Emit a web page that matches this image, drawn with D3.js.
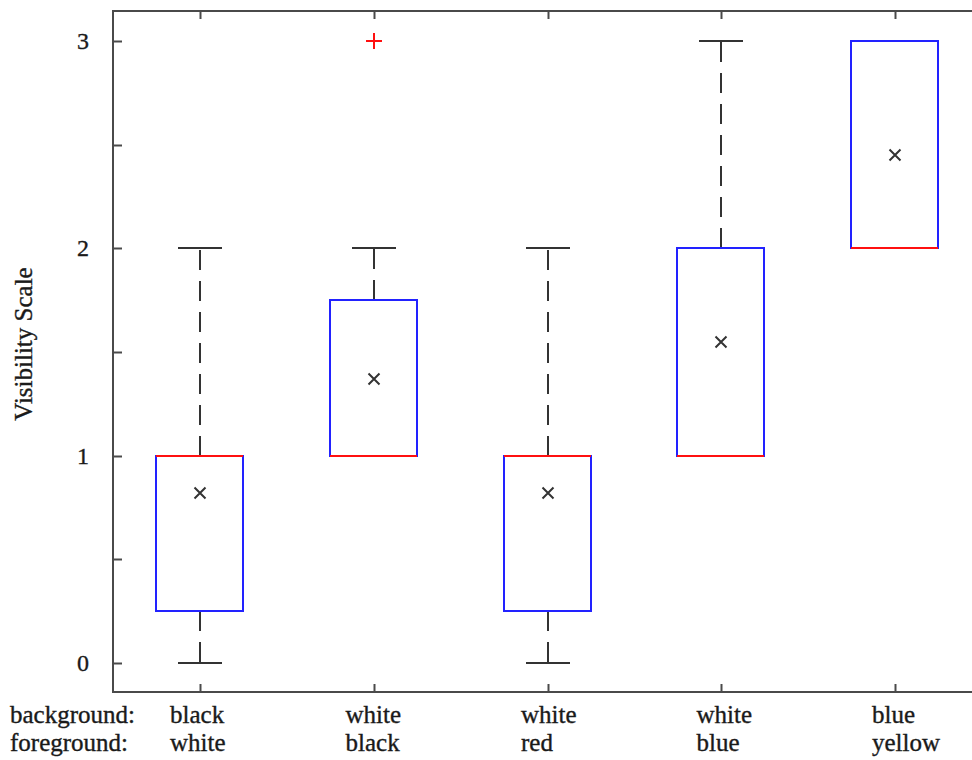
<!DOCTYPE html>
<html>
<head>
<meta charset="utf-8">
<script src="https://cdn.jsdelivr.net/npm/d3@7"></script>
<style>
  html, body { margin: 0; padding: 0; background: #fff; }
  svg { display: block; }
  text { font-family: "Liberation Serif", "Times New Roman", serif; fill: #1a1a1a; stroke: #1a1a1a; stroke-width: 0.35px; }
</style>
</head>
<body>
<svg id="chart" width="972" height="760"></svg>
<script>
// ---- data ----
const backgrounds = ["black", "white", "white", "white", "blue"];
const foregrounds = ["white", "black", "red", "blue", "yellow"];
const q1 = [0.25, 1, 0.25, 1, 2];
const medians = [1, 1, 1, 1, 2];
const q3 = [1, 1.75, 1, 2, 3];
const whiskerLow = [0, 1, 0, 1, 2];
const whiskerHigh = [2, 2, 2, 3, 3];
const means = [0.82, 1.37, 0.82, 1.55, 2.45];
const outliers = [[], [3], [], [], []];
const yTickValues = [0, 0.5, 1, 1.5, 2, 2.5, 3];
const yTickLabels = ["0", "", "1", "", "2", "", "3"];
const rowLabels = ["background:", "foreground:"];

// ---- layout ----
const svg = d3.select("#chart");
const plot = { left: 113, top: 11, right: 982, bottom: 692 };
const idx = d3.range(backgrounds.length);

const x = d3.scaleLinear().domain([0.5, 5.5]).range([plot.left, plot.right]).interpolate(d3.interpolateRound);
const y = d3.scaleLinear().domain([-0.14, 3.145]).range([plot.bottom, plot.top]).interpolate(d3.interpolateRound);
const labelX = d3.scaleLinear().domain([0, 4]).range([170, 872]);

const boxW = 87, capW = 44;
const axisColor = "#4a4a4a";
const blue = "#2222ff", red = "#ff1010", dark = "#333";

// frame
svg.append("rect")
  .attr("x", plot.left).attr("y", plot.top)
  .attr("width", plot.right - plot.left).attr("height", plot.bottom - plot.top)
  .attr("fill", "none").attr("stroke", axisColor).attr("stroke-width", 2);

// axes (ticks pointing inward)
const yAxis = d3.axisLeft(y).tickValues(yTickValues)
  .tickFormat((d, i) => yTickLabels[i]).tickSizeInner(-9).tickSizeOuter(0).tickPadding(24);
const gy = svg.append("g").attr("transform", `translate(${plot.left},0)`).call(yAxis);
const gy2 = svg.append("g").attr("transform", `translate(${plot.right},0)`)
  .call(d3.axisRight(y).tickValues(yTickValues).tickFormat("").tickSizeInner(-9).tickSizeOuter(0));
const xTicks = idx.map(i => i + 1);
const gxb = svg.append("g").attr("transform", `translate(0,${plot.bottom})`)
  .call(d3.axisBottom(x).tickValues(xTicks).tickFormat("").tickSizeInner(-8).tickSizeOuter(0));
const gxt = svg.append("g").attr("transform", `translate(0,${plot.top})`)
  .call(d3.axisTop(x).tickValues(xTicks).tickFormat("").tickSizeInner(-8).tickSizeOuter(0));
[gy, gy2, gxb, gxt].forEach(g => {
  g.select(".domain").remove();
  g.selectAll(".tick line").attr("stroke", axisColor).attr("stroke-width", 2);
});
gy.selectAll(".tick text")
  .attr("font-size", 24).attr("font-family", "Liberation Serif, serif").attr("fill", "#1a1a1a");

// y title
svg.append("text")
  .attr("transform", `translate(32,344) rotate(-90)`)
  .attr("text-anchor", "middle")
  .attr("font-size", 25)
  .text("Visibility Scale");

// whiskers
const g = svg.append("g");
idx.forEach(i => {
  const cx = x(i + 1);
  if (whiskerHigh[i] > q3[i]) {
    g.append("line").attr("x1", cx).attr("x2", cx)
      .attr("y1", y(q3[i])).attr("y2", y(whiskerHigh[i]))
      .attr("stroke", dark).attr("stroke-width", 2).attr("stroke-dasharray", "20,11");
    g.append("line").attr("x1", cx - capW / 2).attr("x2", cx + capW / 2)
      .attr("y1", y(whiskerHigh[i])).attr("y2", y(whiskerHigh[i]))
      .attr("stroke", dark).attr("stroke-width", 2);
  }
  if (whiskerLow[i] < q1[i]) {
    g.append("line").attr("x1", cx).attr("x2", cx)
      .attr("y1", y(q1[i])).attr("y2", y(whiskerLow[i]))
      .attr("stroke", dark).attr("stroke-width", 2).attr("stroke-dasharray", "20,11");
    g.append("line").attr("x1", cx - capW / 2).attr("x2", cx + capW / 2)
      .attr("y1", y(whiskerLow[i])).attr("y2", y(whiskerLow[i]))
      .attr("stroke", dark).attr("stroke-width", 2);
  }
});

// boxes
g.selectAll("rect.box").data(idx).join("rect")
  .attr("class", "box")
  .attr("x", i => x(i + 1) - 44)
  .attr("y", i => y(q3[i]))
  .attr("width", boxW)
  .attr("height", i => y(q1[i]) - y(q3[i]))
  .attr("fill", "none").attr("stroke", blue).attr("stroke-width", 2);

// medians
g.selectAll("line.median").data(idx).join("line")
  .attr("class", "median")
  .attr("x1", i => x(i + 1) - 44).attr("x2", i => x(i + 1) - 44 + boxW)
  .attr("y1", i => y(medians[i])).attr("y2", i => y(medians[i]))
  .attr("stroke", red).attr("stroke-width", 2.2);

// means (x markers)
const m = 5.5;
g.selectAll("path.mean").data(idx).join("path")
  .attr("class", "mean")
  .attr("d", i => {
    const cx = x(i + 1), cy = y(means[i]);
    return `M${cx - m},${cy - m}L${cx + m},${cy + m}M${cx - m},${cy + m}L${cx + m},${cy - m}`;
  })
  .attr("stroke", dark).attr("stroke-width", 2).attr("fill", "none");

// outliers (+ markers)
const p = 8;
const outPts = idx.flatMap(i => outliers[i].map(v => ({ i, v })));
g.selectAll("path.out").data(outPts).join("path")
  .attr("class", "out")
  .attr("d", d => {
    const cx = x(d.i + 1), cy = y(d.v);
    return `M${cx - p},${cy}L${cx + p},${cy}M${cx},${cy - p}L${cx},${cy + p}`;
  })
  .attr("stroke", red).attr("stroke-width", 2).attr("fill", "none");

// category labels
const lab = svg.append("g").attr("font-size", 25);
lab.selectAll("text.row").data(rowLabels).join("text")
  .attr("x", 10).attr("y", (d, r) => 723 + r * 28).text(d => d);
lab.selectAll("text.bg").data(idx).join("text")
  .attr("x", i => labelX(i)).attr("y", 723).text(i => backgrounds[i]);
lab.selectAll("text.fg").data(idx).join("text")
  .attr("x", i => labelX(i)).attr("y", 751).text(i => foregrounds[i]);
</script>
</body>
</html>
